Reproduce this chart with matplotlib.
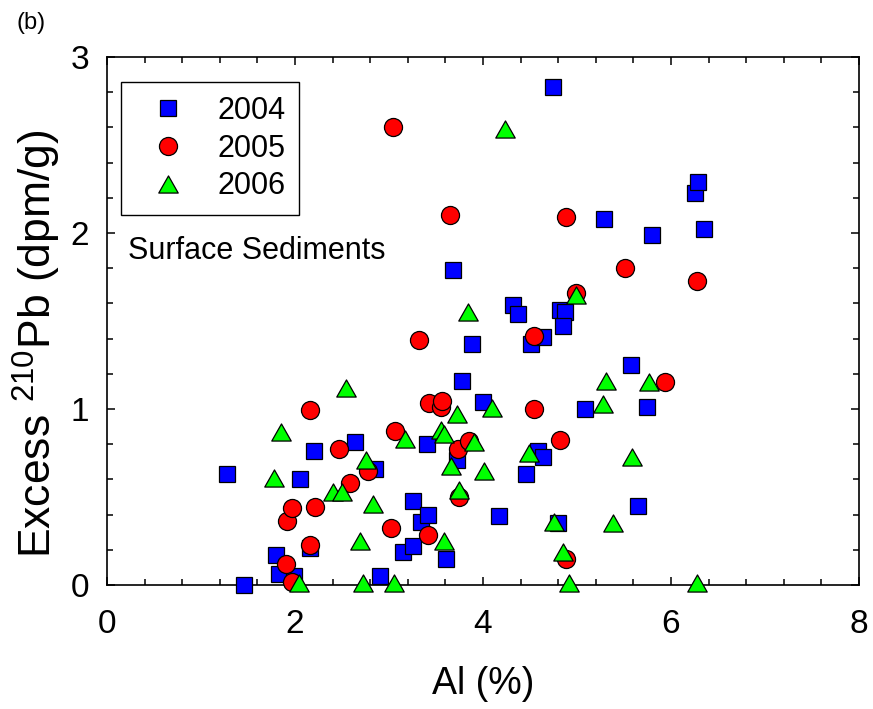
import matplotlib
matplotlib.use("Agg")
import matplotlib.pyplot as plt
from matplotlib.ticker import MultipleLocator
from matplotlib.path import Path

plt.rcParams['font.family'] = ['Liberation Sans', 'DejaVu Sans']
plt.rcParams['mathtext.fontset'] = 'custom'
plt.rcParams['mathtext.rm'] = 'Liberation Sans'
plt.rcParams['mathtext.it'] = 'Liberation Sans'
plt.rcParams['mathtext.bf'] = 'Liberation Sans'

# ---- data ----
al_2004 = [1.28, 1.46, 1.80, 1.83, 1.99, 2.05, 2.16, 2.20, 2.64, 2.85, 2.90, 3.15,
           3.25, 3.25, 3.34, 3.41, 3.40, 3.61, 3.72, 3.78, 3.68, 3.88, 4.00, 4.17,
           4.32, 4.37, 4.46, 4.51, 4.59, 4.64, 4.64, 4.74, 4.80, 4.82, 4.87, 4.85,
           5.08, 5.29, 5.57, 5.65, 5.74, 5.80, 6.25, 6.29, 6.35]
pb_2004 = [0.63, 0.00, 0.17, 0.06, 0.05, 0.60, 0.21, 0.76, 0.81, 0.66, 0.05, 0.19,
           0.22, 0.48, 0.36, 0.40, 0.80, 0.15, 0.71, 1.16, 1.79, 1.37, 1.04, 0.39,
           1.59, 1.54, 0.63, 1.37, 0.76, 0.73, 1.41, 2.83, 0.35, 1.56, 1.55, 1.47,
           1.00, 2.08, 1.25, 0.45, 1.01, 1.99, 2.23, 2.29, 2.02]

al_2005 = [1.90, 1.92, 1.97, 1.97, 2.16, 2.16, 2.21, 2.47, 2.59, 2.78, 3.02, 3.06,
           3.04, 3.32, 3.42, 3.43, 3.55, 3.56, 3.65, 3.73, 3.74, 3.85, 4.54, 4.54,
           4.82, 4.88, 4.88, 4.99, 5.51, 5.94, 6.28]
pb_2005 = [0.12, 0.365, 0.435, 0.015, 0.225, 0.995, 0.445, 0.775, 0.58, 0.65, 0.325, 0.875,
           2.60, 1.39, 0.285, 1.035, 1.01, 1.045, 2.10, 0.775, 0.50, 0.82, 1.00, 1.415,
           0.825, 0.15, 2.09, 1.66, 1.80, 1.155, 1.73]

al_2006 = [1.78, 1.85, 2.04, 2.40, 2.50, 2.54, 2.69, 2.72, 2.75, 2.83, 3.05, 3.17,
           3.55, 3.59, 3.58, 3.66, 3.72, 3.74, 3.84, 3.90, 4.01, 4.10, 4.23, 4.49,
           4.75, 4.85, 4.92, 4.99, 5.28, 5.31, 5.38, 5.58, 5.77, 6.28]
pb_2006 = [0.61, 0.87, 0.01, 0.53, 0.53, 1.12, 0.25, 0.01, 0.71, 0.46, 0.01, 0.83,
           0.88, 0.86, 0.25, 0.675, 0.97, 0.54, 1.55, 0.81, 0.65, 1.005, 2.59, 0.75,
           0.36, 0.185, 0.01, 1.645, 1.03, 1.16, 0.35, 0.73, 1.155, 0.01]

years = ['2004', '2005', '2006']
x_ticks = [0, 2, 4, 6, 8]
y_ticks = [0, 1, 2, 3]

# ---- figure ----
fig = plt.figure(figsize=(8.73, 7.09), dpi=100)
ax = fig.add_axes([107/873, 1 - 585/709, 752/873, 528/709])

tri = Path([(-1.0, -0.88), (1.0, -0.88), (0.0, 0.88), (-1.0, -0.88)],
           [Path.MOVETO, Path.LINETO, Path.LINETO, Path.CLOSEPOLY])

ax.plot(al_2004, pb_2004, ls='none', marker='s', ms=12, mfc='#0000ff', mec='black',
        mew=0.9, label=years[0], clip_on=False, zorder=3)
ax.plot(al_2005, pb_2005, ls='none', marker='o', ms=13, mfc='#ff0000', mec='black',
        mew=0.9, label=years[1], clip_on=False, zorder=4)
ax.plot(al_2006, pb_2006, ls='none', marker=tri, ms=14, mfc='#00ff00', mec='black',
        mew=0.9, label=years[2], clip_on=False, zorder=5)

ax.set_xlim(0, 8)
ax.set_ylim(0, 3)
ax.set_xticks(x_ticks)
ax.set_yticks(y_ticks)
ax.xaxis.set_minor_locator(MultipleLocator(0.4))
ax.yaxis.set_minor_locator(MultipleLocator(0.2))
ax.tick_params(which='both', direction='in', top=True, right=True, width=1.1)
ax.tick_params(which='major', length=6, labelsize=24)
ax.tick_params(axis='y', which='major', pad=13)
ax.tick_params(axis='x', which='major', pad=17)
ax.tick_params(which='minor', length=4)
for sp in ax.spines.values():
    sp.set_linewidth(1.2)

ax.set_xlabel('Al (%)', fontsize=27, labelpad=19)
ax.set_ylabel('Excess $^{210}$Pb (dpm/g)', fontsize=32, labelpad=5)
ax.yaxis.label.set_y(0.458)

ax.text(0.22, 1.90, 'Surface Sediments', fontsize=22, ha='left', va='center')
fig.text(17/873, 1 - 23/709, '(b)', fontsize=17, ha='left', va='center')

leg = ax.legend(loc='upper left', bbox_to_anchor=(0.0186, 0.952), fontsize=22,
                frameon=True, fancybox=False, edgecolor='black', framealpha=1,
                handletextpad=0.5, borderpad=0.45, labelspacing=0.25,
                handlelength=2.2, borderaxespad=0)
leg.get_frame().set_linewidth(1.0)

fig.savefig('out.png', dpi=100)
